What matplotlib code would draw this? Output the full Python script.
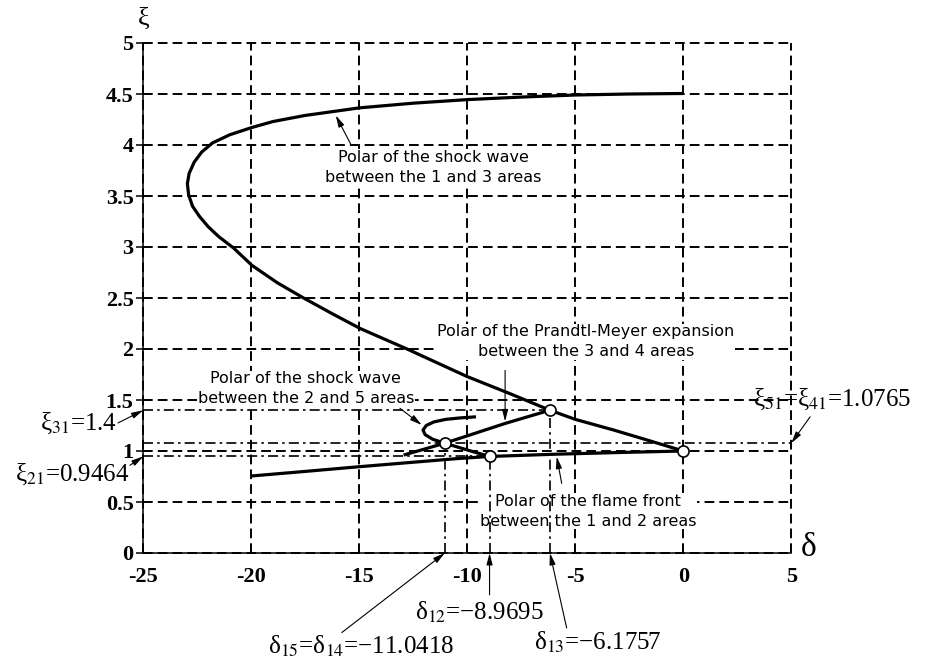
import matplotlib
matplotlib.use("Agg")
import matplotlib.pyplot as plt

plt.rcParams["mathtext.fontset"] = "stix"

# Polar of the shock wave between the 1 and 3 areas (delta, xi)
shock13_d = [0, -2.5, -5, -7.5, -10, -12.5, -15, -17.5, -19, -20, -21, -21.8, -22.3,
             -22.65, -22.88, -22.96, -22.9, -22.72, -22.4, -22.0, -21.5, -20.82, -19.97,
             -18.8, -17.58, -16.2, -14.95, -12.79, -10.01, -8.0, -6.1757, -5.0, -3.23, -1.68, 0]
shock13_x = [4.505, 4.50, 4.49, 4.47, 4.445, 4.41, 4.364, 4.29, 4.23, 4.17, 4.10, 4.02, 3.93,
             3.83, 3.72, 3.62, 3.51, 3.40, 3.30, 3.20, 3.10, 2.99, 2.82,
             2.65, 2.50, 2.34, 2.20, 2.00, 1.73, 1.56, 1.40, 1.31, 1.206, 1.108, 1.0]

# Polar of the flame front between the 1 and 2 areas
flame_d = [-20, -17.5, -15, -12.5, -10.5, -8.9695, -6, -3, 0]
flame_x = [0.755, 0.80, 0.846, 0.89, 0.925, 0.9464, 0.968, 0.985, 1.0]

# Polar of the Prandtl-Meyer expansion between the 3 and 4 areas
pm_d = [-6.1757, -8.25, -11.0418, -12.95]
pm_x = [1.4, 1.27, 1.0765, 0.96]

# Polar of the shock wave between the 2 and 5 areas
shock25_d = [-8.9695, -10.0, -11.0418, -11.6, -11.95, -12.05, -11.9, -11.55, -11.0, -10.3, -9.6]
shock25_x = [0.9464, 1.01, 1.0765, 1.115, 1.16, 1.205, 1.25, 1.285, 1.31, 1.325, 1.335]

# special points
pts_d = [0, -6.1757, -11.0418, -8.9695]
pts_x = [1.0, 1.4, 1.0765, 0.9464]

d12, d13, d15 = -8.9695, -6.1757, -11.0418
x21, x31, x51 = 0.9464, 1.4, 1.0765

xticks = [-25, -20, -15, -10, -5, 0, 5]
yticks = [0, 0.5, 1, 1.5, 2, 2.5, 3, 3.5, 4, 4.5, 5]

fig = plt.figure(figsize=(9.26, 6.63), dpi=100)
ax = fig.add_axes([143.3 / 926, 1 - 553 / 663, 648 / 926, 510 / 663])

ax.set_xlim(-25, 5)
ax.set_ylim(0, 5)
ax.set_xticks(xticks)
ax.set_yticks(yticks)
ax.set_xticklabels([f"{v:g}" for v in xticks])
ax.set_yticklabels([f"{v:g}" for v in yticks])
for lab in ax.get_xticklabels() + ax.get_yticklabels():
    lab.set_fontfamily("Liberation Serif")
    lab.set_fontweight("bold")
    lab.set_fontsize(16)
ax.tick_params(axis="x", length=0, pad=10)
ax.tick_params(axis="y", length=5, width=1.1, pad=2)

for s in ["top", "right"]:
    ax.spines[s].set_visible(False)
for s in ["left", "bottom"]:
    ax.spines[s].set_linewidth(1.1)

ax.set_axisbelow(True)
ax.grid(True, color="black", linewidth=1.4, linestyle=(0, (5, 2.6)))
for g in ax.get_xgridlines() + ax.get_ygridlines():
    g.set_clip_on(False)

# dash-dot guide lines
dd = dict(color="black", linewidth=1.2, linestyle=(0, (6, 2.5, 1.5, 2.5)), zorder=4)
ax.plot([-25, d13], [x31, x31], **dd)
ax.plot([-25, 5], [x51, x51], **dd)
ax.plot([-25, d12], [x21, x21], **dd)
ax.plot([d15, d15], [0, x51], **dd)
ax.plot([d12, d12], [0, x21], **dd)
ax.plot([d13, d13], [0, x31], **dd)

lw = 2.3
ax.plot(shock13_d, shock13_x, color="black", lw=lw, zorder=5, solid_capstyle="butt")
ax.plot(flame_d, flame_x, color="black", lw=lw, zorder=5, solid_capstyle="butt")
ax.plot(pm_d, pm_x, color="black", lw=lw, zorder=5, solid_capstyle="butt")
ax.plot(shock25_d, shock25_x, color="black", lw=lw, zorder=5, solid_capstyle="butt")
ax.plot(pts_d, pts_x, linestyle="none", marker="o", markersize=8,
        markerfacecolor="white", markeredgecolor="black", markeredgewidth=1.2, zorder=6)

# labels of the polars
box = dict(facecolor="white", edgecolor="none", pad=0.5)
lab_kw = dict(fontsize=11.5, family="DejaVu Sans", ha="center", va="center",
              multialignment="center", linespacing=1.4, bbox=box, zorder=3)
ax.text(-11.59, 3.78, "Polar of the shock wave\nbetween the 1 and 3 areas", **lab_kw)
ax.text(-4.5, 2.07, "Polar of the Prandtl-Meyer expansion\nbetween the 3 and 4 areas", **lab_kw)
ax.text(-17.48, 1.61, "Polar of the shock wave\nbetween the 2 and 5 areas", **lab_kw)
ax.text(-4.4, 0.41, "Polar of the flame front\nbetween the 1 and 2 areas", **lab_kw)

arr = dict(arrowstyle="-|>,head_length=0.7,head_width=0.18", color="black",
           lw=0.8, shrinkA=0, shrinkB=0)


def arrow(start, tip):
    ax.annotate("", xy=tip, xytext=start, arrowprops=arr, annotation_clip=False, zorder=7)


arrow((-15.4, 4.01), (-16.09, 4.29))
arrow((-8.25, 1.79), (-8.25, 1.29))
arrow((-13.12, 1.419), (-12.11, 1.255))
arrow((-5.63, 0.683), (-5.86, 0.944))
arrow((-26.17, 1.275), (-25.0, x31))
arrow((-25.62, 0.86), (-25.0, x21))
arrow((5.87, 1.335), (5.0, x51))
arrow((-15.81, -0.78), (d15, 0))
arrow((-8.97, -0.41), (d12, 0))
arrow((-5.40, -0.735), (d13, 0))

val_kw = dict(fontsize=18, family="Liberation Serif", va="center", clip_on=False)
ax.text(-26.2, 1.27, "ξ$_{31}$=1.4", ha="right", **val_kw)
ax.text(-25.65, 0.77, "ξ$_{21}$=0.9464", ha="right", **val_kw)
ax.text(3.23, 1.51, "ξ$_{51}$=ξ$_{41}$=1.0765", ha="left", **val_kw)
ax.text(-14.92, -0.92, "δ$_{15}$=δ$_{14}$=−11.0418", ha="center", **val_kw)
ax.text(-9.44, -0.58, "δ$_{12}$=−8.9695", ha="center", **val_kw)
ax.text(-3.97, -0.88, "δ$_{13}$=−6.1757", ha="center", **val_kw)

ax.text(5.8, 0.05, "δ", fontsize=24, family="Liberation Serif", ha="center", va="center",
        clip_on=False)
ax.text(-24.97, 5.24, "ξ", fontsize=19, family="Liberation Serif", ha="center", va="center",
        clip_on=False)

fig.savefig("out.png", dpi=100)
